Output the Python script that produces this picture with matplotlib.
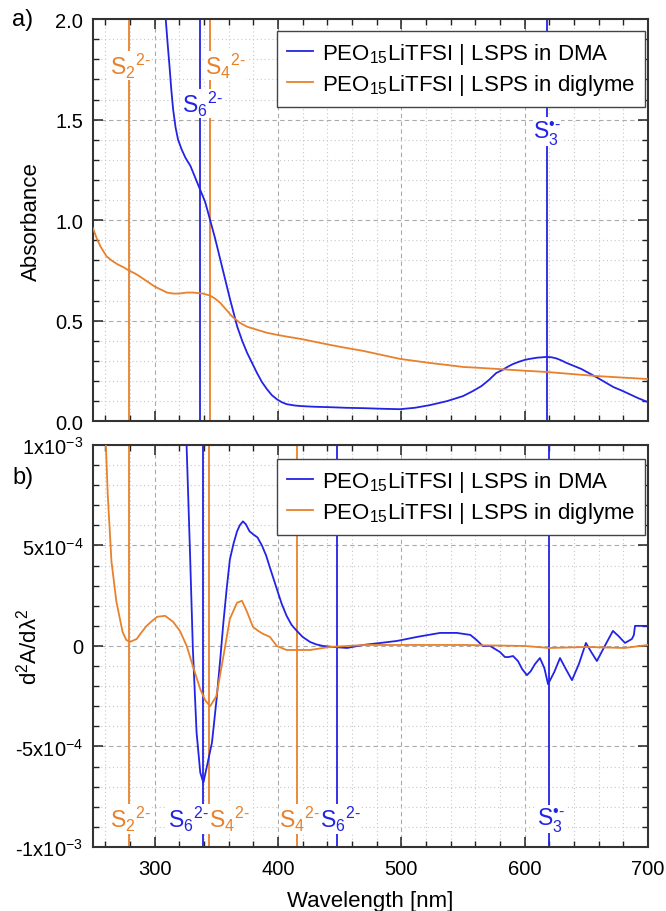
import numpy as np
import matplotlib
matplotlib.use('Agg')
import matplotlib.pyplot as plt
from matplotlib.ticker import MultipleLocator, FixedLocator, FixedFormatter

plt.rcParams['font.family'] = ['Liberation Sans', 'DejaVu Sans']
plt.rcParams['mathtext.fontset'] = 'custom'
plt.rcParams['mathtext.rm'] = 'Liberation Sans'
plt.rcParams['mathtext.it'] = 'Liberation Sans:italic'
plt.rcParams['mathtext.bf'] = 'Liberation Sans:bold'

BLUE = '#2323e6'
ORANGE = '#e8812c'

# ---- a) absorbance ----
wl_a_dma = [305, 307, 309, 310.5, 312, 313.5, 315, 317, 319, 322, 325, 329, 333, 337, 341, 345,
            349, 353, 357, 361, 364, 367, 371, 375, 379, 383, 387, 391, 395, 399, 403, 407, 414,
            420, 430, 442, 455, 470, 485, 499, 511, 523, 537, 550, 558, 565, 571, 577, 582, 586,
            590, 595, 600, 604, 610, 618, 622, 626, 630, 634, 640, 646, 652, 658, 665, 672, 679,
            685, 692, 700]
abs_dma = [2.3, 2.15, 2.0, 1.88, 1.77, 1.65, 1.55, 1.46, 1.40, 1.35, 1.31, 1.27, 1.21, 1.15, 1.09, 1.0,
           0.91, 0.81, 0.71, 0.61, 0.54, 0.47, 0.40, 0.34, 0.29, 0.24, 0.195, 0.16, 0.13, 0.11, 0.095, 0.085, 0.078,
           0.075, 0.072, 0.07, 0.067, 0.065, 0.062, 0.06, 0.067, 0.08, 0.1, 0.125, 0.15, 0.175, 0.205, 0.24, 0.255, 0.27,
           0.283, 0.295, 0.305, 0.31, 0.316, 0.32, 0.318, 0.312, 0.302, 0.29, 0.275, 0.26, 0.24, 0.22, 0.195, 0.17, 0.152,
           0.135, 0.115, 0.095]

wl_a_dig = [250, 253, 256, 261, 265, 270, 275, 279, 284, 288, 294, 300, 305, 310, 315, 320, 326,
            331, 339, 345, 349, 353, 358, 363, 369, 375, 383, 391, 399, 408, 418, 430, 442, 455,
            469, 484, 499, 511, 523, 537, 550, 565, 578, 598, 618, 638, 658, 680, 700]
abs_dig = [0.96, 0.91, 0.87, 0.82, 0.8, 0.78, 0.765, 0.75, 0.735, 0.72, 0.695, 0.67, 0.655, 0.64, 0.635, 0.635, 0.64,
           0.64, 0.635, 0.625, 0.61, 0.59, 0.555, 0.52, 0.49, 0.47, 0.455, 0.44, 0.43, 0.42, 0.41, 0.395, 0.38, 0.365,
           0.35, 0.33, 0.31, 0.3, 0.29, 0.28, 0.27, 0.265, 0.26, 0.252, 0.245, 0.235, 0.225, 0.217, 0.21]

# ---- b) second derivative (units of 1e-4) ----
wl_b_dma = [322, 326, 328.6, 331, 334, 337, 339.5, 342, 346.5, 350.3, 353, 355.8, 358.5, 361, 364,
            366.8, 369, 371.6, 374, 377, 380, 383.4, 387, 390.4, 394, 399, 403, 407, 411, 415.3, 420,
            426, 431, 436.5, 445, 456, 469, 483, 496.5, 512.7, 522, 531.5, 545, 556, 561,
            566, 572, 576, 580, 584, 587, 590.6, 594.6, 598, 601.9, 605, 608.4, 612.4, 616, 619,
            624, 628.7, 633, 638.4, 644, 649.7, 654, 658.6, 665, 671.6, 676, 681.4, 687, 688.6,
            689.5, 700]
d2_dma = [16, 9.8, 4.8, -0.15, -4.3, -6.3, -6.8, -6.1, -4.8, -2.6, -0.8, 1.2, 2.9, 4.3, 5.1,
          5.7, 6.0, 6.2, 6.05, 5.7, 5.55, 5.4, 5.0, 4.5, 3.8, 2.85, 2.1, 1.5, 1.05, 0.75, 0.45,
          0.2, 0.08, 0.0, -0.05, -0.1, 0.05, 0.15, 0.25, 0.45, 0.55, 0.65, 0.65, 0.55, 0.3,
          0.0, 0.0, -0.15, -0.3, -0.55, -0.55, -0.5, -0.75, -1.15, -1.45, -1.25, -0.9, -0.6, -1.1, -1.9,
          -1.3, -0.6, -1.1, -1.7, -0.9, 0.15, -0.3, -0.75, 0.0, 0.75, 0.5, 0.15, 0.35, 0.55,
          1.0, 1.0]

wl_b_dig = [258, 262, 265, 269, 274, 277, 280, 285.5, 289, 293.5, 298, 302, 308.5, 315, 320.5, 326,
            331, 337, 341, 345, 350, 355.8, 361, 366.8, 370.8, 374.9, 379.7, 384, 388, 393.5, 399,
            407, 415, 426, 442, 470, 500, 550, 600, 620, 650, 681, 700]
d2_dig = [14, 7.5, 4.2, 2.2, 0.7, 0.3, 0.2, 0.35, 0.65, 1.0, 1.25, 1.45, 1.5, 1.2, 0.75, 0.0,
          -1.0, -2.15, -2.7, -3.0, -2.5, -0.5, 1.35, 2.15, 2.25, 1.7, 0.95, 0.75, 0.6, 0.45, 0.0,
          -0.2, -0.2, -0.2, -0.05, 0.05, 0.05, 0.05, 0.0, -0.1, -0.05, -0.1, 0.05]

# reference lines: (wavelength, color)
ref_a = [(279, ORANGE), (337, BLUE), (345, ORANGE), (618, BLUE)]
ref_b = [(279, ORANGE), (339, BLUE), (344, ORANGE), (415.5, ORANGE), (448, BLUE), (620, BLUE)]

# labels: (x, y, text, color)
S2 = r'S$_2{}^{2\text{-}}$'
S4 = r'S$_4{}^{2\text{-}}$'
S6 = r'S$_6{}^{2\text{-}}$'
S3 = r'S$_3^{\text{•-}}$'
lab_a = [(280, 1.77, S2, ORANGE),
         (339, 1.58, S6, BLUE),
         (357, 1.77, S4, ORANGE),
         (618, 1.44, S3, BLUE)]
lab_b = [(280, -8.6, S2, ORANGE),
         (327, -8.6, S6, BLUE),
         (360.5, -8.6, S4, ORANGE),
         (417.5, -8.6, S4, ORANGE),
         (450.5, -8.6, S6, BLUE),
         (621, -8.6, S3, BLUE)]

b_ticks = [-10, -5, 0, 5, 10]
b_ticklabels = [r'-1x10$^{-3}$', r'-5x10$^{-4}$', '0', r'5x10$^{-4}$', r'1x10$^{-3}$']

leg_dma = r'PEO$_{15}$LiTFSI | LSPS in DMA'
leg_dig = r'PEO$_{15}$LiTFSI | LSPS in diglyme'

fig = plt.figure(figsize=(6.66, 9.12), dpi=100)
ax1 = fig.add_axes([0.1396, 0.537, 0.8333, 0.441])
ax2 = fig.add_axes([0.1396, 0.0702, 0.8333, 0.4408])


def style(ax):
    ax.set_xlim(250, 700)
    ax.xaxis.set_major_locator(MultipleLocator(100))
    ax.xaxis.set_minor_locator(MultipleLocator(20))
    ax.tick_params(which='both', direction='in', top=True, right=True, labelsize=14.5,
                   color='#222222')
    ax.tick_params(which='major', length=7, width=1.1)
    ax.tick_params(which='minor', length=4, width=1.0)
    ax.tick_params(axis='x', pad=9)
    ax.tick_params(axis='y', pad=7)
    ax.grid(True, which='major', linestyle=(0, (4, 3)), color='#aaaaaa', lw=0.8)
    ax.grid(True, which='minor', linestyle=(0, (1, 2.5)), color='#c8c8c8', lw=0.8)
    ax.set_axisbelow(True)
    for s in ax.spines.values():
        s.set_linewidth(1.5)
        s.set_color('#333333')


def labels(ax, labs):
    for x, y, t, c in labs:
        ax.text(x, y, t, color=c, ha='center', va='center', fontsize=16.5, zorder=5,
                bbox=dict(facecolor='white', edgecolor='none', pad=0.2))


def legend(ax, ytop):
    lg = ax.legend(loc='upper right', bbox_to_anchor=(0.995, ytop), borderaxespad=0,
                   fontsize=16, fancybox=False, framealpha=1, edgecolor='#444444',
                   handlelength=1.2, borderpad=0.45, labelspacing=0.25, handletextpad=0.4)
    lg.get_frame().set_linewidth(1.0)
    lg.set_zorder(10)


# panel a
style(ax1)
for x, c in ref_a:
    ax1.axvline(x, color=c, lw=1.3, zorder=2)
ax1.plot(wl_a_dma, abs_dma, color=BLUE, lw=1.3, label=leg_dma, zorder=3)
ax1.plot(wl_a_dig, abs_dig, color=ORANGE, lw=1.3, label=leg_dig, zorder=3)
labels(ax1, lab_a)
ax1.set_ylim(0, 2.0)
ax1.yaxis.set_major_locator(MultipleLocator(0.5))
ax1.yaxis.set_minor_locator(MultipleLocator(0.1))
ax1.yaxis.set_major_formatter(plt.FormatStrFormatter('%.1f'))
ax1.tick_params(labelbottom=False)
ax1.set_ylabel('Absorbance', fontsize=16)
ax1.yaxis.set_label_coords(-0.092, 0.5)
legend(ax1, 0.97)

# panel b
style(ax2)
for x, c in ref_b:
    ax2.axvline(x, color=c, lw=1.3, zorder=2)
ax2.plot(wl_b_dma, d2_dma, color=BLUE, lw=1.3, label=leg_dma, zorder=3)
ax2.plot(wl_b_dig, d2_dig, color=ORANGE, lw=1.3, label=leg_dig, zorder=3)
labels(ax2, lab_b)
ax2.set_ylim(-10, 10)
ax2.yaxis.set_major_locator(FixedLocator(b_ticks))
ax2.yaxis.set_major_formatter(FixedFormatter(b_ticklabels))
ax2.yaxis.set_minor_locator(MultipleLocator(1))
ax2.set_ylabel(r'd$^2$A/dλ$^2$', fontsize=16)
ax2.yaxis.set_label_coords(-0.092, 0.5)
ax2.set_xlabel('Wavelength [nm]', fontsize=16, va='top')
ax2.xaxis.set_label_coords(0.5, -0.108)
legend(ax2, 0.965)

fig.text(0.018, 1 - 20 / 912, 'a)', fontsize=17, va='center', ha='left')
fig.text(0.018, 1 - 478 / 912, 'b)', fontsize=17, va='center', ha='left')

fig.savefig('out.png', dpi=100)
